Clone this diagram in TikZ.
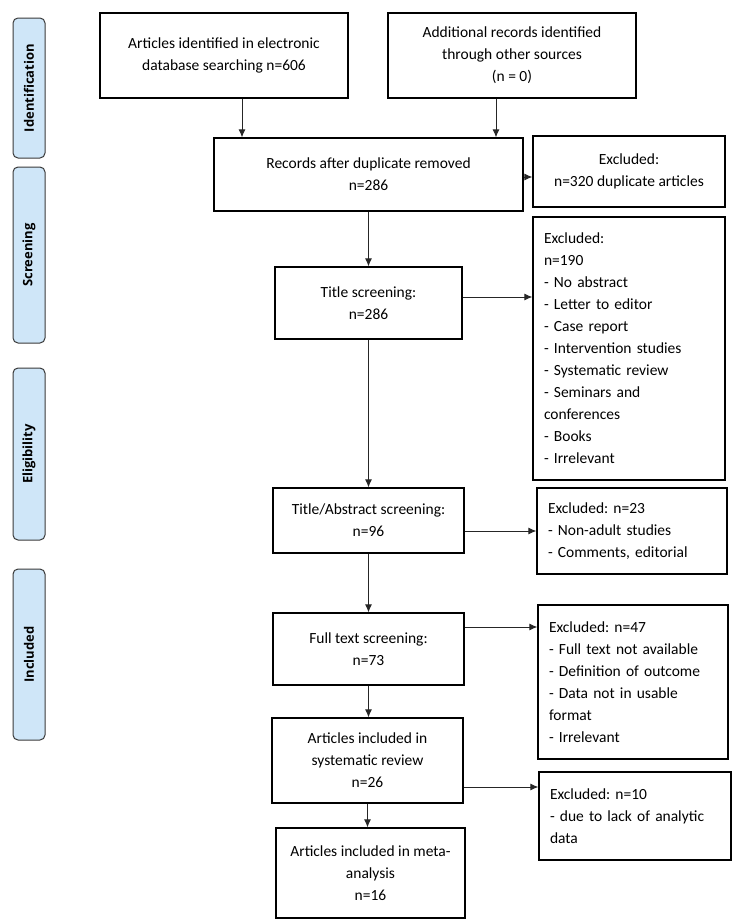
\documentclass[tikz,border=0pt]{standalone}
\usepackage{fontspec}
\setmainfont{Carlito}
\newfontfamily\sidefont{Open Sans}
\usepackage{tikz}
\usetikzlibrary{arrows.meta,shapes}
\definecolor{phasefill}{HTML}{CFE6F8}
\definecolor{phaseline}{HTML}{3A3A3A}
\newcommand{\boxlw}{1.2pt}
\newcommand{\arrlw}{1pt}
\frenchspacing

\begin{document}
\begin{tikzpicture}[x=1pt,y=-1pt,
    font=\fontsize{15.5}{22}\selectfont,
    stepbox/.style={draw, line width=\boxlw, align=center, inner sep=0pt},
    exclbox/.style={draw, line width=\boxlw, align=left, inner xsep=11pt, inner ysep=0pt},
    phase/.style={draw=phaseline, fill=phasefill, line width=1pt, rounded corners=5pt,
        rotate=90, minimum height=32pt, inner sep=0pt,
        font=\sidefont\bfseries\fontsize{13}{15}\selectfont},
    arr/.style={-{Latex[length=8pt,width=7pt]}, line width=\arrlw, draw=black!85}]
                %\draw[help lines] (0,0) grid (733,921);
                \useasboundingbox (0,0) rectangle (733,921);
                \node[phase, minimum width=140pt] (ident) at (29,88) {Identification};
                \node[phase, minimum width=176pt] (screen) at (29,255) {Screening};
                \node[phase, minimum width=172pt] (elig) at (29,454) {Eligibility};
                \node[phase, minimum width=171pt] (incl) at (29,654.5) {Included};

                \node[stepbox, minimum width=248pt, minimum height=85pt] (search) at (224,55.5) {Articles identified in electronic\\database searching n=606};
                \node[stepbox, minimum width=248pt, minimum height=85pt] (other) at (512,55.5) {Additional records identified\\through other sources\\(n = 0)};
                \node[stepbox, minimum width=309pt, minimum height=73pt] (dedup) at (368.5,174.5) {Records after duplicate removed\\n=286};
                \node[stepbox, minimum width=192pt, minimum height=71pt] (exdup) at (629,171.5) {Excluded:\\n=320 duplicate articles};
                \node[stepbox, minimum width=187pt, minimum height=72pt] (title) at (368.5,303) {Title screening:\\n=286};
                \node[exclbox, text width=170pt, minimum height=263pt] (extitle) at (629,348.5) {Excluded:\\n=190\\- No abstract\\- Letter to editor\\- Case report\\- Intervention studies\\- Systematic review\\- Seminars and\\conferences\\- Books\\- Irrelevant};
                \node[stepbox, minimum width=191pt, minimum height=65pt] (abstr) at (368.5,520.5) {Title/Abstract screening:\\n=96};
                \node[exclbox, text width=168pt, minimum height=86pt] (exabstr) at (632,531) {Excluded: n=23\\- Non-adult studies\\- Comments, editorial};
                \node[stepbox, minimum width=191pt, minimum height=72pt] (full) at (368.5,649) {Full text screening:\\n=73};
                \node[exclbox, text width=168pt, minimum height=154pt] (exfull) at (633,682) {Excluded: n=47\\- Full text not available\\- Definition of outcome\\- Data not in usable\\format\\- Irrelevant};
                \node[stepbox, minimum width=191pt, minimum height=85pt] (sysrev) at (367.5,760.5) {Articles included in\\systematic review\\n=26};
                \node[exclbox, text width=170pt, minimum height=88pt] (exsys) at (635,816) {Excluded: n=10\\- due to lack of analytic\\data};
                \node[stepbox, minimum width=189pt, minimum height=90pt] (meta) at (370.5,873) {Articles included in meta-\\analysis\\n=16};

                \draw[arr] ([xshift=18pt]search.south) -- ([xshift=18pt]search.south |- dedup.north);
                \draw[arr] ([xshift=-16pt]other.south) -- ([xshift=-16pt]other.south |- dedup.north);
                \draw[arr] ([yshift=-2.5pt]dedup.east) -- ([yshift=-2.5pt]dedup.east -| exdup.west);
                \draw[arr] (dedup.south) -- (title.north);
                \draw[arr] ([yshift=6pt]title.east) -- ([yshift=6pt]title.east -| extitle.west);
                \draw[arr] (title.south) -- (abstr.north);
                \draw[arr] (abstr.east |- exabstr.west) -- (exabstr.west);
                \draw[arr] (abstr.south) -- (abstr.south |- full.north);
                \draw[arr] ([yshift=22pt]full.east) -- ([yshift=22pt]full.east -| exfull.west);
                \draw[arr] (full.south) -- (full.south |- sysrev.north);
                \draw[arr] ([yshift=-26.5pt]sysrev.east) -- ([yshift=-26.5pt]sysrev.east -| exsys.west);
                \draw[arr] (sysrev.south) -- (sysrev.south |- meta.north);
        \end{tikzpicture}
\end{document}
